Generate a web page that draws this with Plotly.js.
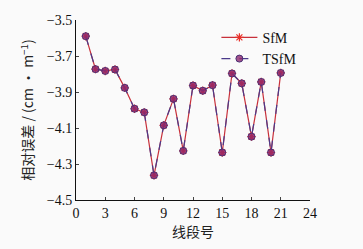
<!DOCTYPE html>
<html><head><meta charset="utf-8">
<script src="https://cdn.plot.ly/plotly-3.0.1.min.js"></script>
<style>html,body{margin:0;padding:0;background:#fafafa;}</style>
</head><body>
<div id="chart" style="width:363px;height:249px;"></div>
<script>
const segments = [1,2,3,4,5,6,7,8,9,10,11,12,13,14,15,16,17,18,19,20,21];
const sfm = [-3.59,-3.773,-3.783,-3.775,-3.877,-3.993,-4.013,-4.363,-4.085,-3.938,-4.227,-3.864,-3.893,-3.862,-4.236,-3.797,-3.852,-4.148,-3.844,-4.236,-3.794];
const tsfm = [-3.59,-3.773,-3.783,-3.775,-3.877,-3.993,-4.013,-4.363,-4.085,-3.938,-4.227,-3.864,-3.893,-3.862,-4.236,-3.797,-3.852,-4.148,-3.844,-4.236,-3.794];
const xTicks = [0,3,6,9,12,15,18,21,24];
const yTicks = [-3.5,-3.7,-3.9,-4.1,-4.3,-4.5];
const yTickText = ['\u22123.5','\u22123.7','\u22123.9','\u22124.1','\u22124.3','\u22124.5'];

const serif = 'Liberation Serif, Times New Roman, serif';
const cjk = 'Noto Sans CJK SC, sans-serif';
const traces = [
  {x:segments, y:sfm, name:'SfM', mode:'lines+markers',
   line:{color:'#c8303a', width:1.2},
   marker:{symbol:'asterisk', size:7, color:'#e8302a', line:{color:'#e8302a', width:1.2}}},
  {x:segments, y:tsfm, name:'TSfM', mode:'lines+markers',
   line:{color:'#4a3a8a', width:1.2, dash:'dash'},
   marker:{symbol:'circle', size:7, color:'rgba(140,40,110,0.8)', line:{color:'#4a2f75', width:1}}}
];
const layout = {
  width:363, height:249,
  margin:{l:76, r:52.5, t:19.5, b:48.5},
  paper_bgcolor:'#fafafa', plot_bgcolor:'#fafafa',
  font:{family:serif, size:13, color:'#111'},
  showlegend:true,
  legend:{x:0.6, y:0.99, xanchor:'left', yanchor:'top', bgcolor:'rgba(0,0,0,0)',
          font:{family:serif, size:14, color:'#111'}, tracegroupgap:0, itemwidth:36},
  xaxis:{range:[0,24], tickmode:'array', tickvals:xTicks, ticks:'inside', ticklen:3,
         showline:true, linecolor:'#111', linewidth:1, showgrid:false, zeroline:false, mirror:false,
         tickfont:{family:serif, size:14, color:'#111'},
         title:{text:'线段号', font:{family:cjk, size:14, color:'#222'}, standoff:5}},
  yaxis:{range:[-4.5,-3.5], tickmode:'array', tickvals:yTicks, ticktext:yTickText, ticks:'inside', ticklen:3,
         showline:true, linecolor:'#111', linewidth:1, showgrid:false, zeroline:false, mirror:false,
         tickfont:{family:serif, size:14, color:'#111'},
         title:{text:'相对误差 / (cm · m<sup>−1</sup>)', font:{family:cjk, size:14, color:'#222'}, standoff:9}}
};
Plotly.newPlot('chart', traces, layout, {staticPlot:true, displayModeBar:false});
</script>
</body></html>
